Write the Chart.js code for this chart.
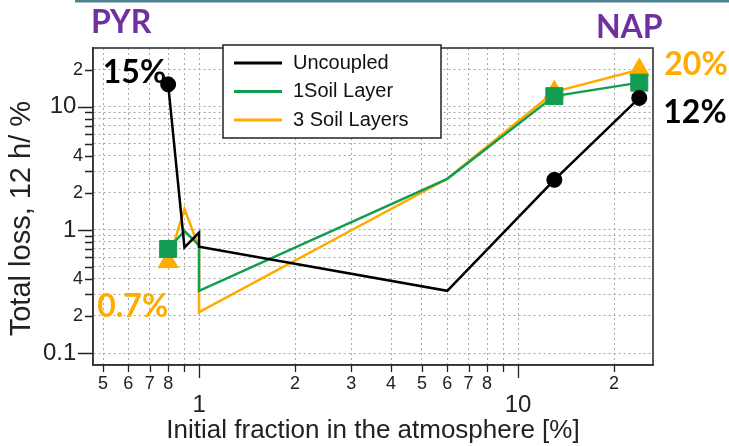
<!DOCTYPE html>
<html>
<head>
<meta charset="utf-8">
<script src="https://cdn.jsdelivr.net/npm/chart.js@4.4.0/dist/chart.umd.min.js"></script>
<style>
  html, body { margin: 0; padding: 0; background: #fff; }
  #wrap { width: 729px; height: 446px; position: relative; }
</style>
</head>
<body>
<div id="wrap"><canvas id="lossChart"></canvas></div>
<script>
// axis ticks (log scales)
const xTickValues = [0.5, 0.6, 0.7, 0.8, 0.9, 1, 2, 3, 4, 5, 6, 7, 8, 9, 10, 20];
const xTickLabels = ['5', '6', '7', '8', '', '1', '2', '3', '4', '5', '6', '7', '8', '', '10', '2'];
const yTickValues = [0.1, 0.2, 0.3, 0.4, 0.5, 0.6, 0.7, 0.8, 0.9, 1, 2, 3, 4, 5, 6, 7, 8, 9, 10, 20];
const yTickLabels = ['0.1', '2', '', '4', '', '', '', '', '', '1', '2', '', '4', '', '', '', '', '', '10', '2'];

// series (initial fraction %, total loss %)
const seriesNames = ['Uncoupled', '1Soil Layer', '3 Soil Layers'];
const uncoupledX = [0.8, 0.9, 1.0, 1.0, 6, 13, 24];
const uncoupledY = [15.2, 0.72, 0.95, 0.73, 0.32, 2.55, 11.8];
const oneLayerX = [0.8, 0.9, 1.0, 1.0, 6, 13, 24];
const oneLayerY = [0.70, 0.98, 0.75, 0.32, 2.6, 12.2, 15.7];
const threeLayerX = [0.8, 0.9, 1.0, 1.0, 6, 13, 24];
const threeLayerY = [0.55, 1.48, 0.72, 0.215, 2.6, 13.2, 20];
const markerX = [0.8, 13, 24];

const isDecade = v => Math.abs(Math.log10(v) - Math.round(Math.log10(v))) < 1e-9;
const toPoints = (xs, ys) => xs.map((x, i) => ({ x: x, y: ys[i] }));

// text notes, anchored to a data position (y null = top of plot)
const notes = [
    { text: 'PYR', color: '#7030a0', x: 0.8, y: null, dx: -47, dy: -15, align: 'center', size: 32 },
    { text: 'NAP', color: '#7030a0', x: 24, y: null, dx: -10, dy: -10, align: 'center', size: 32 },
    { text: '15%', color: '#000', x: 0.8, y: 15.2, dx: -2, dy: -1, align: 'right', size: 32 },
    { text: '0.7%', color: '#ffab00', x: 0.8, y: 0.55, dx: -71, dy: 55, align: 'left', size: 32 },
    { text: '20%', color: '#ffab00', x: 24, y: 20, dx: 25, dy: 5, align: 'left', size: 32 },
    { text: '12%', color: '#000', x: 24, y: 11.8, dx: 24, dy: 25, align: 'left', size: 32 }
];

Chart.defaults.font.family = '"Liberation Sans", Arial, sans-serif';
Chart.defaults.color = '#222';

const frameAndTicks = {
    id: 'frameAndTicks',
    afterDraw(chart) {
        const { ctx, chartArea, scales } = chart;
        ctx.save();
        ctx.strokeStyle = '#222';
        ctx.lineWidth = 1.3;
        ctx.beginPath();
        xTickValues.forEach(v => {
            const px = Math.round(scales.x.getPixelForValue(v)) + 0.5;
            ctx.moveTo(px, chartArea.bottom);
            ctx.lineTo(px, chartArea.bottom + (isDecade(v) ? 13 : 7));
        });
        yTickValues.forEach(v => {
            const py = Math.round(scales.y.getPixelForValue(v)) + 0.5;
            ctx.moveTo(chartArea.left, py);
            ctx.lineTo(chartArea.left - (isDecade(v) ? 15 : 8), py);
        });
        ctx.stroke();
        ctx.strokeStyle = '#333';
        ctx.lineWidth = 1.6;
        ctx.strokeRect(chartArea.left, chartArea.top, chartArea.right - chartArea.left, chartArea.bottom - chartArea.top);

        // thin teal rule on top of the slide
        ctx.fillStyle = '#4f8393';
        ctx.fillRect(75, 0, chart.width - 75, 2.5);

        // legend box
        const left = chartArea.left + 130, top = chartArea.top - 3;
        ctx.fillStyle = '#fff';
        ctx.fillRect(left, top, 218, 93);
        ctx.strokeStyle = '#222';
        ctx.lineWidth = 1.5;
        ctx.strokeRect(left, top, 218, 93);
        ctx.font = '20px "Liberation Sans", Arial, sans-serif';
        ctx.textBaseline = 'middle';
        ctx.textAlign = 'left';
        chart.data.datasets.forEach((ds, i) => {
            const y = top + 18 + i * 28.5;
            ctx.strokeStyle = ds.borderColor;
            ctx.lineWidth = 3;
            ctx.beginPath();
            ctx.moveTo(left + 11, y);
            ctx.lineTo(left + 59, y);
            ctx.stroke();
            ctx.fillStyle = '#111';
            ctx.fillText(ds.label, left + 70, y);
        });

        // notes
        ctx.textBaseline = 'alphabetic';
        notes.forEach(n => {
            const px = scales.x.getPixelForValue(n.x) + n.dx;
            const py = (n.y === null ? chartArea.top : scales.y.getPixelForValue(n.y)) + n.dy;
            ctx.font = 'bold ' + n.size + 'px Lato, "Open Sans", sans-serif';
            ctx.fillStyle = n.color;
            ctx.textAlign = n.align;
            ctx.fillText(n.text, px, py);
        });
        ctx.restore();
    }
};

const markerRadius = r => ctx => {
    const p = ctx.raw;
    return p && markerX.includes(p.x) ? r : 0;
};

new Chart(document.getElementById('lossChart'), {
    type: 'line',
    data: {
        datasets: [
            {
                label: seriesNames[0],
                data: toPoints(uncoupledX, uncoupledY),
                borderColor: '#000',
                backgroundColor: '#000',
                pointStyle: 'circle',
                pointRadius: markerRadius(7.5)
            },
            {
                label: seriesNames[1],
                data: toPoints(oneLayerX, oneLayerY),
                borderColor: '#139d52',
                backgroundColor: '#139d52',
                pointStyle: 'rect',
                pointRadius: markerRadius(12)
            },
            {
                label: seriesNames[2],
                data: toPoints(threeLayerX, threeLayerY),
                borderColor: '#ffab00',
                backgroundColor: '#ffab00',
                pointStyle: 'triangle',
                pointRadius: markerRadius(11.5)
            }
        ]
    },
    options: {
        responsive: true,
        maintainAspectRatio: false,
        animation: false,
        events: [],
        layout: { padding: { left: 0, right: 76, top: 48, bottom: 0 } },
        elements: {
            line: { borderWidth: 2.5, tension: 0 },
            point: { borderWidth: 1, hoverRadius: 0 }
        },
        datasets: { line: { clip: false } },
        plugins: { legend: { display: false }, tooltip: { enabled: false } },
        scales: {
            x: {
                type: 'logarithmic',
                min: 0.465,
                max: 26.5,
                bounds: 'data',
                afterBuildTicks: s => { s.ticks = xTickValues.map(v => ({ value: v, major: isDecade(v) })); },
                afterFit: s => { s.height = 81; },
                grid: { color: '#a6a6a6', lineWidth: 1, drawTicks: false },
                border: { color: '#333', width: 1.6, dash: [2, 3] },
                ticks: {
                    autoSkip: false,
                    maxRotation: 0,
                    padding: 8,
                    color: '#222',
                    font: c => (c.tick && isDecade(c.tick.value)) ? { size: 24, lineHeight: 0.9 } : { size: 18, lineHeight: 1.2 },
                    callback: v => {
                        const lab = xTickLabels[xTickValues.findIndex(t => Math.abs(t - v) < 1e-9)] || '';
                        return isDecade(v) ? ['', lab] : lab;
                    }
                },
                title: {
                    display: true,
                    text: 'Initial fraction in the atmosphere [%]',
                    color: '#222',
                    font: { size: 26 },
                    padding: { top: 0, bottom: 0 }
                }
            },
            y: {
                type: 'logarithmic',
                min: 0.08,
                max: 30,
                bounds: 'data',
                afterBuildTicks: s => { s.ticks = yTickValues.map(v => ({ value: v, major: isDecade(v) })); },
                afterFit: s => { s.width = 93; },
                grid: { color: '#a6a6a6', lineWidth: 1, drawTicks: false },
                border: { color: '#333', width: 1.6, dash: [2, 3] },
                ticks: {
                    autoSkip: false,
                    padding: 10,
                    color: '#222',
                    font: c => (c.tick && isDecade(c.tick.value)) ? { size: 24 } : { size: 18 },
                    callback: v => {
                        const lab = yTickLabels[yTickValues.findIndex(t => Math.abs(t - v) < 1e-9)] || '';
                        return isDecade(v) ? lab + ' ' : lab;
                    }
                },
                title: {
                    display: true,
                    text: 'Total loss, 12 h/ %   ',
                    color: '#222',
                    font: { size: 29 },
                    padding: { top: 5, bottom: 0 }
                }
            }
        }
    },
    plugins: [frameAndTicks]
});
</script>
</body>
</html>
